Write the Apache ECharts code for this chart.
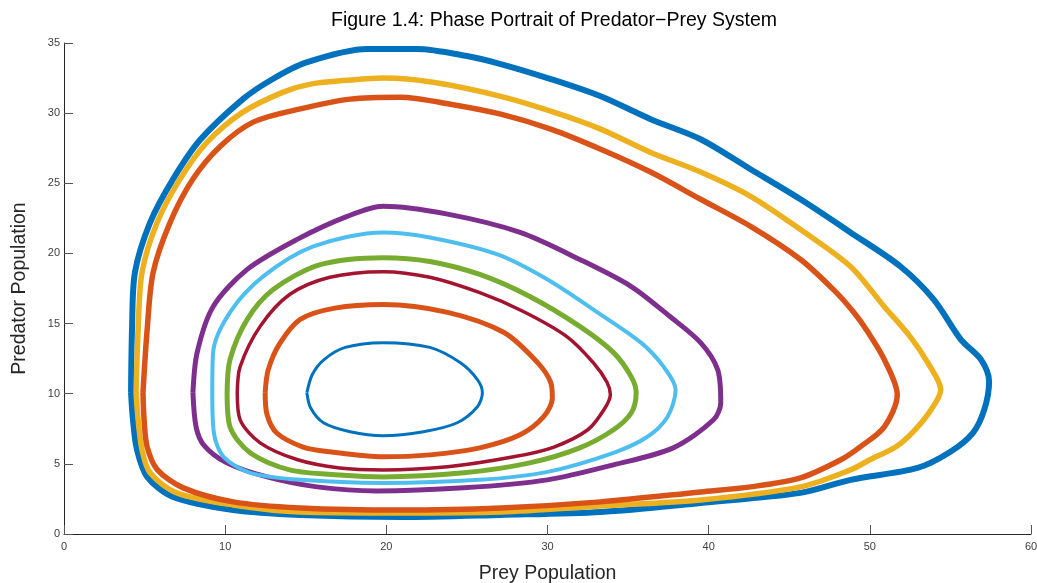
<!DOCTYPE html>
<html>
<head>
<meta charset="utf-8">
<script src="https://cdn.jsdelivr.net/npm/echarts@6/dist/echarts.min.js"></script>
<style>html,body{margin:0;padding:0;background:#fff}#c{width:1037px;height:583px}</style>
</head>
<body>
<div id="c"></div>
<script>
const titleText = 'Figure 1.4: Phase Portrait of Predator\u2212Prey System';
const xName = 'Prey Population';
const yName = 'Predator Population';
const xTicks = [0, 10, 20, 30, 40, 50, 60];
const yTicks = [0, 5, 10, 15, 20, 25, 30, 35];

const orbit1 = [[15.07,10.07],[15.4,11.35],[16.1,12.4],[17.45,13.3],[19.8,13.64],[22.7,13.3],[24.6,12.2],[25.65,11.0],[25.96,10.07],[25.65,9.07],[24.4,7.93],[22.3,7.29],[19.8,7.0],[17.76,7.29],[16.1,7.93],[15.3,9.0],[15.07,10.07]];
const orbit2 = [[12.48,10.06],[12.67,11.7],[13.4,13.6],[14.66,15.3],[16.8,16.1],[19.8,16.36],[23.8,15.8],[27.3,14.36],[29.4,12.2],[30.2,10.8],[30.3,9.7],[29.76,8.36],[28.3,7.07],[25.8,6.14],[22.7,5.64],[19.8,5.5],[16.5,5.86],[14.84,6.2],[13.2,7.2],[12.6,8.5],[12.48,10.06]];
const orbit3 = [[10.75,10.07],[10.93,11.93],[12.17,14.8],[14.0,17.07],[16.5,18.3],[19.8,18.7],[22.7,18.3],[25.8,17.2],[28.5,15.86],[31.2,14.07],[32.85,12.2],[33.7,10.8],[33.9,9.93],[33.5,8.86],[32.5,7.43],[30.4,6.2],[27.9,5.5],[23.8,4.79],[19.8,4.57],[17.1,4.71],[14.5,5.29],[12.17,6.5],[10.93,8.14],[10.75,10.07]];
const orbit4 = [[10.12,10.07],[10.3,12.43],[11.37,15.3],[12.98,17.43],[15.9,19.2],[19.8,19.7],[22.7,19.43],[25.8,18.5],[28.9,16.93],[32.0,14.8],[34.1,12.93],[35.2,11.2],[35.5,10.07],[35.2,8.64],[34.1,7.43],[32.0,6.14],[28.9,5.07],[24.8,4.36],[19.8,4.07],[17.1,4.21],[14.0,4.57],[11.55,5.79],[10.3,7.64],[10.12,10.07]];
const orbit5 = [[9.2,10.07],[9.25,12.93],[10.3,15.8],[12.36,18.36],[15.47,20.5],[19.8,21.5],[22.7,21.14],[26.9,19.93],[30.0,18.14],[33.1,15.8],[35.8,13.64],[37.2,11.93],[37.95,10.29],[37.45,8.36],[36.2,6.93],[34.1,5.79],[30.0,4.43],[25.8,3.86],[19.8,3.64],[14.66,3.86],[11.55,4.36],[9.9,5.5],[9.3,7.21],[9.2,10.07]];
const orbit6 = [[8.0,10.07],[8.26,12.93],[9.25,16.2],[11.37,18.86],[14.47,21.0],[17.57,22.64],[19.8,23.36],[23.8,22.8],[28.3,21.5],[32.0,19.57],[35.2,17.64],[37.6,15.5],[39.5,13.64],[40.56,11.71],[40.75,9.36],[40.3,8.14],[37.8,6.14],[34.1,4.93],[30.0,3.86],[24.8,3.29],[19.4,3.07],[15.7,3.36],[12.6,4.07],[10.1,5.07],[8.7,6.3],[8.2,7.6],[8.0,10.07]];
const orbit7 = [[4.9,10.07],[5.16,14.57],[5.53,18.64],[6.58,22.2],[8.0,25.3],[9.7,27.64],[11.74,29.36],[14.66,30.3],[17.76,31.0],[20.87,31.14],[23.97,30.64],[27.1,29.93],[30.2,28.86],[33.3,27.43],[36.4,25.8],[39.5,23.86],[42.6,21.93],[45.7,19.57],[47.76,17.4],[49.0,15.8],[49.9,14.36],[50.9,12.43],[51.7,9.93],[50.9,7.64],[49.4,6.21],[48.2,5.29],[45.7,4.0],[42.6,3.36],[39.5,3.0],[33.3,2.29],[27.1,1.86],[20.87,1.71],[14.66,1.86],[10.5,2.29],[7.4,3.29],[5.8,4.57],[5.16,6.21],[4.97,8.14],[4.9,10.07]];
const orbit8 = [[4.47,10.07],[4.6,14.57],[4.84,18.64],[5.78,22.2],[7.2,25.3],[8.88,27.93],[11.1,30.07],[13.6,31.5],[15.3,32.07],[17.76,32.36],[19.8,32.5],[22.9,32.2],[27.1,31.2],[30.2,30.14],[33.3,28.86],[36.4,27.2],[39.5,25.8],[42.6,24.07],[45.7,21.7],[48.8,19.07],[50.9,16.2],[52.5,14.07],[53.6,12.2],[54.4,10.29],[53.8,8.86],[52.7,7.3],[51.6,6.2],[50.0,5.29],[48.8,4.57],[45.7,3.36],[39.5,2.43],[33.3,2.0],[27.1,1.57],[20.87,1.5],[14.66,1.57],[10.5,2.07],[7.0,2.93],[5.34,4.36],[4.84,6.0],[4.6,8.14],[4.47,10.07]];
const orbit9 = [[4.16,10.07],[4.22,14.57],[4.4,18.64],[5.34,22.2],[6.77,25.3],[8.45,28.1],[11.1,31.0],[12.9,32.4],[15.0,33.6],[18.8,34.57],[21.9,34.57],[25.0,34.07],[27.1,33.5],[30.2,32.43],[33.3,31.2],[36.4,29.57],[39.5,28.14],[42.6,26.0],[45.7,23.86],[48.8,21.5],[51.9,19.07],[53.97,16.71],[55.65,13.86],[56.9,12.43],[57.4,10.86],[57.1,8.86],[56.4,7.21],[55.0,5.86],[52.96,4.71],[48.8,3.86],[45.7,2.93],[39.5,2.21],[33.3,1.57],[27.1,1.36],[20.87,1.21],[14.66,1.36],[10.5,1.71],[6.77,2.64],[5.16,4.07],[4.53,6.0],[4.28,8.14],[4.16,10.07]];

const orbits = [orbit1, orbit2, orbit3, orbit4, orbit5, orbit6, orbit7, orbit8, orbit9];
const colors = ['#0072BD','#D95319','#A2142F','#77AC30','#4DBEEE','#7E2F8E','#D95319','#EDB120','#0072BD'];
const widths = [3, 5, 3.5, 5, 4, 5, 5.5, 5.5, 6];

const chart = echarts.init(document.getElementById('c'), null, {renderer: 'canvas'});
const font = '"Liberation Sans", Arial, Helvetica, sans-serif';
chart.setOption({
  animation: false,
  backgroundColor: '#ffffff',
  title: {
    text: titleText,
    left: 326, top: 6,
    textStyle: {fontFamily: font, fontSize: 19.5, fontWeight: 'normal', color: '#000'}
  },
  grid: {left: 64, right: 6, top: 43, bottom: 49, containLabel: false, outerBoundsMode: 'none'},
  xAxis: {
    type: 'value', min: xTicks[0], max: xTicks[xTicks.length-1], interval: 10,
    name: xName, nameLocation: 'middle', nameGap: 30,
    nameTextStyle: {fontFamily: font, fontSize: 19.5, color: '#262626', verticalAlign: 'top'},
    axisLine: {show: true, lineStyle: {color: '#262626', width: 1}},
    axisTick: {show: true, inside: true, length: 9, lineStyle: {color: '#555'}},
    axisLabel: {fontFamily: font, fontSize: 11, color: '#404040', margin: 7},
    splitLine: {show: false}
  },
  yAxis: {
    type: 'value', min: yTicks[0], max: yTicks[yTicks.length-1], interval: 5,
    name: yName, nameLocation: 'middle', nameGap: 34,
    nameTextStyle: {fontFamily: font, fontSize: 19.5, color: '#262626'},
    axisLine: {show: true, lineStyle: {color: '#262626', width: 1}},
    axisTick: {show: true, inside: true, length: 9, lineStyle: {color: '#555'}},
    axisLabel: {fontFamily: font, fontSize: 11, color: '#404040', margin: 4},
    splitLine: {show: false}
  },
  series: orbits.map((d, i) => ({
    type: 'line', data: d, showSymbol: false, smooth: 0.3,
    lineStyle: {color: colors[i], width: widths[i]},
    z: 2 + (8 - i)
  }))
});
</script>
</body>
</html>
